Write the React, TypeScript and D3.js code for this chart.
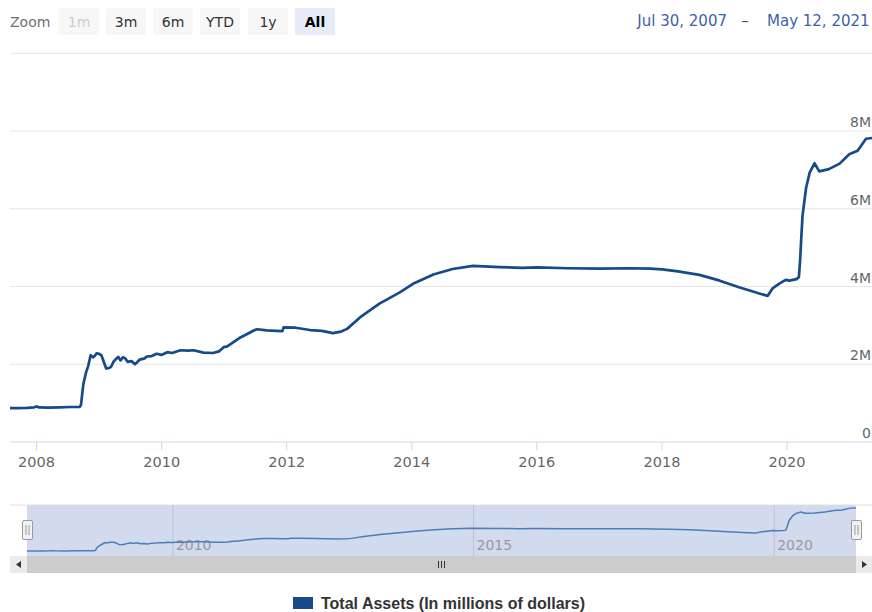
import React from 'react'
import * as d3 from 'd3'

// weekly balance sheet readings (millions of dollars)
const weekDates = [
  '2007-07-30', '2007-09-12', '2007-11-07', '2007-12-19', '2008-01-02', '2008-01-16',
  '2008-03-12', '2008-05-14', '2008-07-16', '2008-09-10', '2008-09-17', '2008-09-24',
  '2008-10-01', '2008-10-15', '2008-10-29', '2008-11-12', '2008-11-26', '2008-12-03',
  '2008-12-17', '2008-12-31', '2009-01-14', '2009-01-28', '2009-02-11', '2009-02-25',
  '2009-03-11', '2009-03-25', '2009-04-08', '2009-04-22', '2009-05-06', '2009-05-20',
  '2009-06-03', '2009-06-17', '2009-07-08', '2009-07-29', '2009-08-12', '2009-08-26',
  '2009-09-23', '2009-10-07', '2009-11-04', '2009-12-02', '2009-12-30', '2010-02-03',
  '2010-03-03', '2010-04-21', '2010-06-02', '2010-07-07', '2010-09-01', '2010-10-27',
  '2010-12-01', '2010-12-29', '2011-01-19', '2011-04-06', '2011-06-29', '2011-07-13',
  '2011-09-07', '2011-11-02', '2011-12-07', '2011-12-14', '2012-02-22', '2012-05-16',
  '2012-07-25', '2012-09-26', '2012-11-14', '2012-12-19', '2013-03-06', '2013-06-26',
  '2013-10-23', '2014-01-08', '2014-05-07', '2014-08-27', '2014-12-24', '2015-05-27',
  '2015-10-07', '2016-01-06', '2016-06-29', '2017-01-04', '2017-06-28', '2017-10-25',
  '2018-01-03', '2018-04-04', '2018-08-08', '2018-12-05', '2019-03-27', '2019-07-24',
  '2019-09-11', '2019-10-09', '2019-11-20', '2019-12-25', '2020-01-15', '2020-02-26',
  '2020-03-11', '2020-03-18', '2020-03-25', '2020-04-01', '2020-04-22', '2020-05-13',
  '2020-06-10', '2020-07-08', '2020-09-02', '2020-11-04', '2020-12-30', '2021-02-17',
  '2021-04-07', '2021-05-12'
]

const totalAssets = [
  869000, 872000, 878000, 892000, 915000, 890000,
  886000, 893000, 900000, 905000, 960000, 1250000,
  1500000, 1770000, 1960000, 2230000, 2180000, 2200000,
  2280000, 2270000, 2230000, 2060000, 1890000, 1900000,
  1930000, 2060000, 2130000, 2190000, 2100000, 2180000,
  2150000, 2060000, 2080000, 2000000, 2060000, 2120000,
  2150000, 2200000, 2210000, 2270000, 2240000, 2310000,
  2290000, 2360000, 2350000, 2360000, 2300000, 2290000,
  2330000, 2440000, 2460000, 2690000, 2880000, 2900000,
  2870000, 2860000, 2850000, 2950000, 2940000, 2880000,
  2860000, 2800000, 2840000, 2910000, 3210000, 3560000,
  3850000, 4070000, 4310000, 4450000, 4530000, 4500000,
  4480000, 4490000, 4470000, 4460000, 4470000, 4460000,
  4440000, 4390000, 4300000, 4150000, 3980000, 3820000,
  3760000, 3950000, 4080000, 4170000, 4150000, 4190000,
  4240000, 4670000, 5250000, 5810000, 6540000, 6930000,
  7170000, 6960000, 7020000, 7160000, 7400000, 7490000,
  7800000, 7820000
]

const yTicks = [0, 2000000, 4000000, 6000000, 8000000, 10000000]
const yTickLabels = ['0', '2M', '4M', '6M', '8M', '']
const xTickYears = [2008, 2010, 2012, 2014, 2016, 2018, 2020]
const navTickYears = [2010, 2015, 2020]
const zoomButtons = ['1m', '3m', '6m', 'YTD', '1y', 'All']
const rangeFrom = 'Jul 30, 2007'
const rangeTo = 'May 12, 2021'
const seriesName = 'Total Assets (In millions of dollars)'

const parse = d3.timeParse('%Y-%m-%d')
const data = weekDates.map((d, i) => ({ date: parse(d), value: totalAssets[i] }))

const font = '"DejaVu Sans", Verdana, sans-serif'

const RangeSelector = () => {
  const xs = [59, 106, 153, 200, 248, 295]
  return (
    <g fontFamily={font}>
      <text x={10} y={27} fontSize={14} fill="#707070">Zoom</text>
      {zoomButtons.map((b, i) => {
        const active = b === 'All'
        const disabled = b === '1m'
        return (
          <g key={b} transform={`translate(${xs[i]},8)`}>
            <rect width={40} height={27} rx={2} fill={active ? '#e6ebf5' : '#f7f7f7'} />
            <text
              x={20}
              y={19}
              textAnchor="middle"
              fontSize={14}
              fontWeight={active ? 'bold' : 'normal'}
              fill={disabled ? '#cccccc' : active ? '#000' : '#333'}
            >
              {b}
            </text>
          </g>
        )
      })}
      <text x={727} y={26} textAnchor="end" fontSize={15} fill="#3d62ad">{rangeFrom}</text>
      <text x={745} y={26} textAnchor="middle" fontSize={15} fill="#555">–</text>
      <text x={767} y={26} fontSize={15} fill="#3d62ad">{rangeTo}</text>
    </g>
  )
}

const MainChart = ({ x, y }) => {
  const [x0, x1] = x.range()
  const line = d3
    .line()
    .x((d) => x(d.date))
    .y((d) => y(d.value))

  return (
    <g fontFamily={font}>
      <defs>
        <clipPath id="plotClip">
          <rect x={x0} y={40} width={x1 - x0} height={410} />
        </clipPath>
      </defs>
      {yTicks.map((t) =>
        t === 0 ? null : (
          <line key={t} x1={x0} x2={x1} y1={y(t)} y2={y(t)} stroke="#e6e6e6" strokeWidth={1} />
        )
      )}
      {yTicks.map((t, i) => (
        <text key={'l' + t} x={871} y={y(t) - 4} textAnchor="end" fontSize={14} fill="#666">
          {yTickLabels[i]}
        </text>
      ))}
      <line x1={x0} x2={x1} y1={y(0)} y2={y(0)} stroke="#ccd6eb" strokeWidth={1} />
      {xTickYears.map((yr) => {
        const px = x(new Date(yr, 0, 1))
        return (
          <g key={yr}>
            <line x1={px} x2={px} y1={y(0)} y2={y(0) + 8} stroke="#ccd6eb" />
            <text x={px} y={y(0) + 25} textAnchor="middle" fontSize={14.5} fill="#666">
              {yr}
            </text>
          </g>
        )
      })}
      <path
        d={line(data)}
        fill="none"
        stroke="#174a8b"
        strokeWidth={2.7}
        strokeLinejoin="round"
        clipPath="url(#plotClip)"
      />
    </g>
  )
}

const Navigator = ({ x, y }) => {
  const [x0, x1] = x.range()
  const top = 505
  const bottom = 556
  const line = d3
    .line()
    .x((d) => x(d.date))
    .y((d) => y(d.value))

  return (
    <g fontFamily={font}>
      <rect x={x0} y={top} width={x1 - x0} height={bottom - top} fill="#d2daed" />
      <line x1={10} x2={872} y1={top} y2={top} stroke="#e0e0e0" />
      {navTickYears.map((yr) => {
        const px = x(new Date(yr, 0, 1))
        return (
          <g key={yr}>
            <line x1={px} x2={px} y1={top} y2={bottom} stroke="#b9c3db" />
            <text x={px + 3} y={550} fontSize={14} fill="#999">{yr}</text>
          </g>
        )
      })}
      <path d={line(data)} fill="none" stroke="#4d7cba" strokeWidth={1.5} />
      {[x0, x1].map((hx, i) => (
        <g key={i} transform={`translate(${hx - 5},520)`}>
          <rect x={0.5} y={0.5} width={10} height={19} rx={1.5} fill="#f2f2f2" stroke="#999" />
          <line x1={4} x2={4} y1={5} y2={15} stroke="#999" />
          <line x1={7} x2={7} y1={5} y2={15} stroke="#999" />
        </g>
      ))}
      {/* scrollbar */}
      <rect x={10} y={bottom} width={862} height={17} fill="#f2f2f2" />
      <rect x={x0} y={bottom} width={x1 - x0} height={17} fill="#cccccc" />
      <rect x={10} y={bottom} width={17} height={17} fill="#ebebeb" />
      <rect x={x1} y={bottom} width={872 - x1} height={17} fill="#ebebeb" />
      <path d={`M21,${bottom + 5} L16,${bottom + 8.5} L21,${bottom + 12} Z`} fill="#333" />
      <path d={`M862,${bottom + 5} L867,${bottom + 8.5} L862,${bottom + 12} Z`} fill="#333" />
      {[-3, 0, 3].map((o) => {
        const cx = (x0 + x1) / 2
        return <line key={o} x1={cx + o} x2={cx + o} y1={bottom + 5} y2={bottom + 12} stroke="#333" />
      })}
    </g>
  )
}

const Legend = () => (
  <g>
    <rect x={293} y={597} width={20} height={12} fill="#174a8b" />
    <text
      x={321}
      y={609}
      fontFamily='"Liberation Sans", Arial, sans-serif'
      fontWeight="bold"
      fontSize={16}
      fill="#333"
    >
      {seriesName}
    </text>
  </g>
)

const App = () => {
  const width = 872
  const height = 612
  const extent = d3.extent(data, (d) => d.date)

  const x = d3.scaleTime().domain(extent).range([10, 872])
  const y = d3.scaleLinear().domain([0, 8000000]).range([442, 131])

  const navX = d3.scaleTime().domain(extent).range([27, 856])
  const navY = d3
    .scaleLinear()
    .domain(d3.extent(data, (d) => d.value))
    .range([551, 508])

  return (
    <svg
      width={width}
      height={height}
      style={{ position: 'absolute', left: 0, top: 0, background: '#fff', display: 'block' }}
    >
      <RangeSelector />
      <MainChart x={x} y={y} />
      <Navigator x={navX} y={navY} />
      <Legend />
    </svg>
  )
}

export default App
